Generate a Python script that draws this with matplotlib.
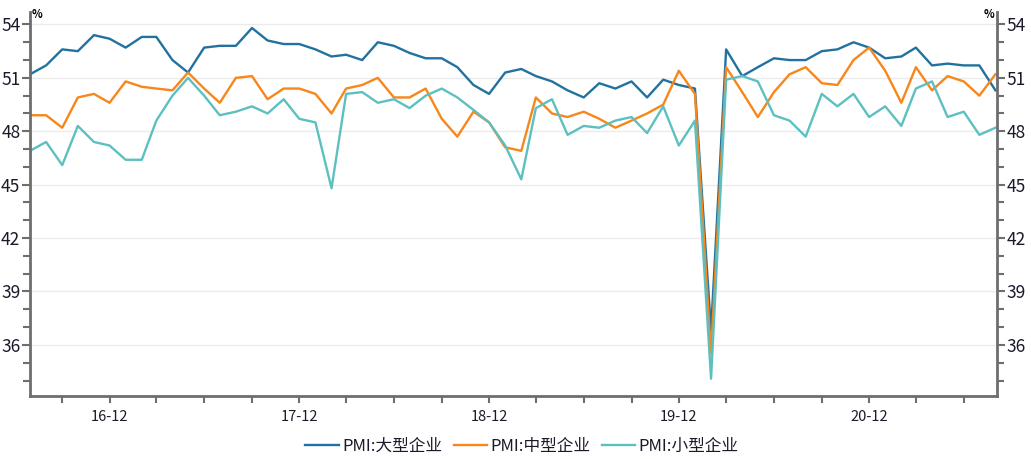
import matplotlib
matplotlib.use("Agg")
import matplotlib.pyplot as plt
import matplotlib.dates as mdates
from matplotlib.ticker import MultipleLocator
import pandas as pd

plt.rcParams['font.family'] = ['Noto Sans CJK SC', 'DejaVu Sans']

months = pd.date_range("2016-07-01", "2021-08-01", freq="MS")

large = [51.2, 51.7, 52.6, 52.5, 53.4, 53.2, 52.7, 53.3, 53.3, 52.0,
         51.3, 52.7, 52.8, 52.8, 53.8, 53.1, 52.9, 52.9, 52.6, 52.2,
         52.3, 52.0, 53.0, 52.8, 52.4, 52.1, 52.1, 51.6, 50.6, 50.1,
         51.3, 51.5, 51.1, 50.8, 50.3, 49.9, 50.7, 50.4, 50.8, 49.9,
         50.9, 50.6, 50.4, 36.8, 52.6, 51.1, 51.6, 52.1, 52.0, 52.0,
         52.5, 52.6, 53.0, 52.7, 52.1, 52.2, 52.7, 51.7, 51.8, 51.7,
         51.7, 50.3]
medium = [48.9, 48.9, 48.2, 49.9, 50.1, 49.6, 50.8, 50.5, 50.4, 50.3,
          51.3, 50.4, 49.6, 51.0, 51.1, 49.8, 50.4, 50.4, 50.1, 49.0,
          50.4, 50.6, 51.0, 49.9, 49.9, 50.4, 48.7, 47.7, 49.1, 48.5,
          47.1, 46.9, 49.9, 49.0, 48.8, 49.1, 48.7, 48.2, 48.6, 49.0,
          49.5, 51.4, 50.1, 35.5, 51.6, 50.2, 48.8, 50.2, 51.2, 51.6,
          50.7, 50.6, 52.0, 52.7, 51.4, 49.6, 51.6, 50.3, 51.1, 50.8,
          50.0, 51.2]
small = [46.9, 47.4, 46.1, 48.3, 47.4, 47.2, 46.4, 46.4, 48.6, 50.0,
         51.0, 50.0, 48.9, 49.1, 49.4, 49.0, 49.8, 48.7, 48.5, 44.8,
         50.1, 50.2, 49.6, 49.8, 49.3, 50.0, 50.4, 49.9, 49.2, 48.5,
         47.2, 45.3, 49.3, 49.8, 47.8, 48.3, 48.2, 48.6, 48.8, 47.9,
         49.4, 47.2, 48.6, 34.1, 50.9, 51.1, 50.8, 48.9, 48.6, 47.7,
         50.1, 49.4, 50.1, 48.8, 49.4, 48.3, 50.4, 50.8, 48.8, 49.1,
         47.8, 48.2]
series_names = ["PMI:大型企业", "PMI:中型企业", "PMI:小型企业"]
colors = ["#21729f", "#f7861b", "#5dc0c0"]
y_ticks = [36, 39, 42, 45, 48, 51, 54]

fig = plt.figure(figsize=(10.31, 4.59), dpi=100)
ax = fig.add_axes([30/1031, 63/459, 967/1031, 384/459])

for vals, name, c in zip([large, medium, small], series_names, colors):
    ax.plot(months, vals, color=c, lw=1.7, label=name)

ax.set_xlim(months[0], months[-1] + pd.Timedelta(days=3))
ax.set_ylim(33.13, 54.7)
ax.set_yticks(y_ticks)
ax.yaxis.set_minor_locator(MultipleLocator(1))
ax.xaxis.set_major_locator(mdates.MonthLocator(bymonth=[12]))
ax.xaxis.set_major_formatter(mdates.DateFormatter("%y-%m"))
ax.xaxis.set_minor_locator(mdates.MonthLocator(bymonth=[3, 6, 9, 12]))

ax.grid(axis='y', color='#ebebeb', lw=1)
ax.set_axisbelow(True)
for s in ['left', 'right', 'bottom']:
    ax.spines[s].set_color('#6e6e6e')
    ax.spines[s].set_linewidth(2)
ax.spines['top'].set_visible(False)

ax.tick_params(axis='y', which='both', left=True, right=True, labelleft=True,
               labelright=True, direction='out', color='#6e6e6e', width=1.5,
               labelsize=12.5, labelcolor='#1a1a2a', pad=1)
ax.tick_params(axis='y', which='major', length=6)
ax.tick_params(axis='y', which='minor', length=5)
ax.tick_params(axis='x', which='both', direction='out', color='#6e6e6e',
               width=1.5, length=5, labelsize=10.5, labelcolor='#1a1a2a', pad=5)

fig.text(32/1031, 1 - 14/459, "%", fontsize=8, fontweight='bold', va='center', ha='left')
fig.text(994/1031, 1 - 14/459, "%", fontsize=8, fontweight='bold', va='center', ha='right')

leg = fig.legend(loc='center', bbox_to_anchor=(522/1031, 1 - 446/459), ncol=3,
                 frameon=False, fontsize=12, handlelength=2.0, handletextpad=0.2,
                 columnspacing=0.7)
for t in leg.get_texts():
    t.set_color('#1a1a2a')

fig.savefig("out.png", dpi=100)
